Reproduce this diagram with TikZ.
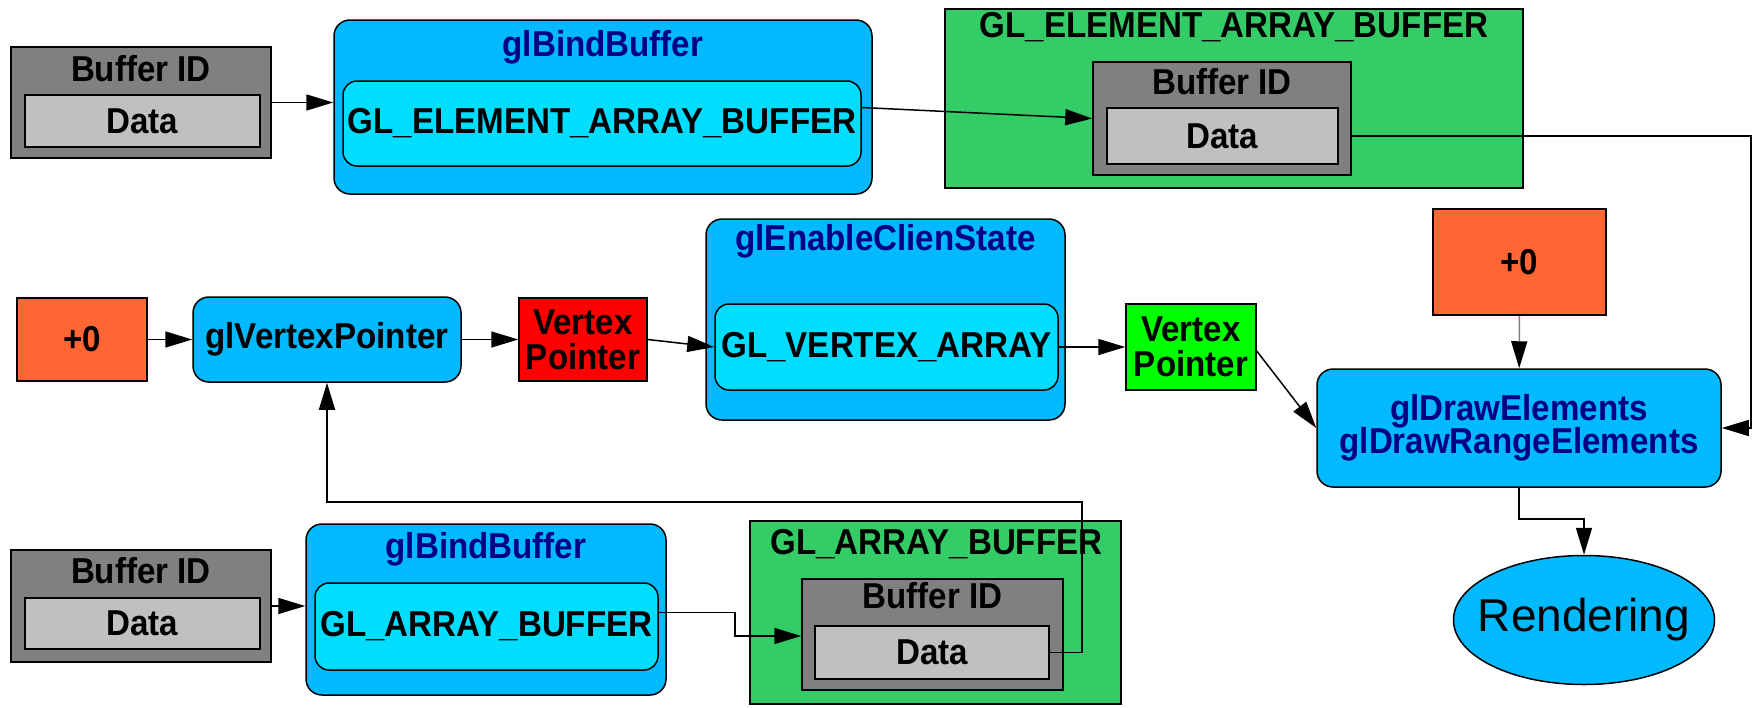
\documentclass[tikz,border=0pt]{standalone}
\usepackage{fontspec}
\setmainfont{Liberation Sans}[FakeStretch=0.92]
\newfontfamily\plainfont{Liberation Sans}
\usetikzlibrary{arrows.meta,shapes.geometric,calc}
\definecolor{gbox}{RGB}{128,128,128}
\definecolor{gdata}{RGB}{192,192,192}
\definecolor{bout}{RGB}{0,185,255}
\definecolor{bin}{RGB}{0,221,255}
\definecolor{grn}{RGB}{51,204,102}
\definecolor{org}{RGB}{255,102,51}
\definecolor{rd}{RGB}{255,0,0}
\definecolor{lime}{RGB}{0,255,0}
\definecolor{navy}{RGB}{0,0,128}
\tikzset{
  box/.style={draw=black, line width=1.5pt, inner sep=0pt, font=\bfseries\fontsize{36}{35}\selectfont, align=center},
  grayout/.style={box, fill=gbox},
  graydata/.style={box, fill=gdata},
  blueout/.style={box, fill=bout, rounded corners=16pt},
  bluein/.style={box, fill=bin, rounded corners=14pt},
  greenbox/.style={box, fill=grn},
  orangebox/.style={box, fill=org},
  ttl/.style={inner sep=0pt, font=\bfseries\fontsize{36}{36}\selectfont},
  navyttl/.style={ttl, text=navy},
  conn/.style={line width=1.5pt, -{Triangle[length=27pt,width=16pt]}},
}
\begin{document}
\begin{tikzpicture}[x=1pt,y=-1pt]
\useasboundingbox (0,0) rectangle (1758,707);
% ---- top row
\node[grayout, minimum width=260pt, minimum height=111pt] (bid1) at (141,102.5) {};
\node[ttl] (bid1t) at (141,69) {Buffer ID};
\node[graydata, minimum width=235pt, minimum height=52pt] (data1) at (142.5,121) {Data};
\node[blueout, minimum width=538pt, minimum height=174pt] (bb1) at (603,107) {};
\node[navyttl] (bb1t) at (603,47) {glBindBuffer};
\node[bluein, minimum width=518pt, minimum height=85pt] (in1) at (602,123.5) {GL\_ELEMENT\_ARRAY\_BUFFER};
\node[greenbox, minimum width=578pt, minimum height=179pt] (gr1) at (1234,98.5) {};
\node[ttl] (gr1t) at (1234,27) {GL\_ELEMENT\_ARRAY\_BUFFER};
\node[grayout, minimum width=258pt, minimum height=113pt] (bid2) at (1222,118.5) {};
\node[ttl] (bid2t) at (1222,82) {Buffer ID};
\node[graydata, minimum width=231pt, minimum height=56pt] (data2) at (1222.5,136) {Data};
% ---- middle row
\node[orangebox, minimum width=130pt, minimum height=83pt] (p0a) at (82,339.5) {+0};
\node[blueout, minimum width=268pt, minimum height=85pt] (vp) at (327,339.5) {glVertexPointer};
\node[box, fill=rd, minimum width=128pt, minimum height=83pt] (rvp) at (583,339.5) {Vertex\\Pointer};
\node[blueout, minimum width=359pt, minimum height=201pt] (ecs) at (885.5,319.5) {};
\node[navyttl] (ecst) at (885.5,241) {glEnableClienState};
\node[bluein, minimum width=343pt, minimum height=86pt] (in3) at (886.5,347) {GL\_VERTEX\_ARRAY};
\node[box, fill=lime, minimum width=130pt, minimum height=86pt] (gvp) at (1191,347) {Vertex\\Pointer};
\node[orangebox, minimum width=173pt, minimum height=106pt] (p0b) at (1519.5,262) {+0};
\node[blueout, text=navy, minimum width=404pt, minimum height=118pt] (drw) at (1519,428) {glDrawElements\\[-2pt]glDrawRangeElements};
\node[ellipse, draw=black, line width=1.5pt, fill=bout, inner sep=0pt, minimum width=261pt, minimum height=129pt] (rend) at (1584,620) {};
\node[inner sep=0pt, font=\plainfont\fontsize{46}{46}\selectfont] (rendt) at (rend.center) {Rendering};
% ---- bottom row
\node[grayout, minimum width=260pt, minimum height=112pt] (bid3) at (141,606) {};
\node[ttl] (bid3t) at (141,571) {Buffer ID};
\node[graydata, minimum width=235pt, minimum height=51pt] (data3) at (142.5,623.5) {Data};
\node[blueout, minimum width=360pt, minimum height=171pt] (bb2) at (486,609.5) {};
\node[navyttl] (bb2t) at (486,549) {glBindBuffer};
\node[bluein, minimum width=343pt, minimum height=87pt] (in2) at (486.5,626.5) {GL\_ARRAY\_BUFFER};
\node[greenbox, minimum width=371pt, minimum height=183pt] (gr2) at (935.5,612.5) {};
\node[ttl] (gr2t) at (936.5,544) {GL\_ARRAY\_BUFFER};
\node[grayout, minimum width=261pt, minimum height=111pt] (bid4) at (932.5,634.5) {};
\node[ttl] (bid4t) at (932.5,596) {Buffer ID};
\node[graydata, minimum width=234pt, minimum height=53pt] (data4) at (932,652.5) {Data};
% ---- connectors
\draw[conn] (bid1.east) -- (bid1.east -| bb1.west);
\draw[conn] ([yshift=16pt]in1.east) -- (bid2.west);
\draw[conn] (bid2.east |- data2.east) -- (1751,136) -- (1751,428) -- (drw.east);
\draw[conn] (p0a) -- (vp);
\draw[conn] (vp) -- (rvp);
\draw[conn] (rvp.east) -- (in3.west);
\draw[conn] (in3) -- (gvp);
\draw[conn] ([yshift=-4pt]gvp.east) -- (drw.west);
\draw[line width=1.5pt, draw=gray, -{Triangle[length=27pt,width=16pt,color=black]}] (p0b) -- (drw);
\draw[conn] (drw.south) -- ++(0,31) -| (rend.north);
\draw[conn] (bid3.east) -- (bid3.east -| bb2.west);
\draw[conn] ([yshift=14pt]in2.east) -- (735,612.5) |- (bid4.west |- 0,636);
\draw[conn] (data4.east) -- (1082,652.5) -- (1082,502) -| (vp.south);
\end{tikzpicture}
\end{document}
